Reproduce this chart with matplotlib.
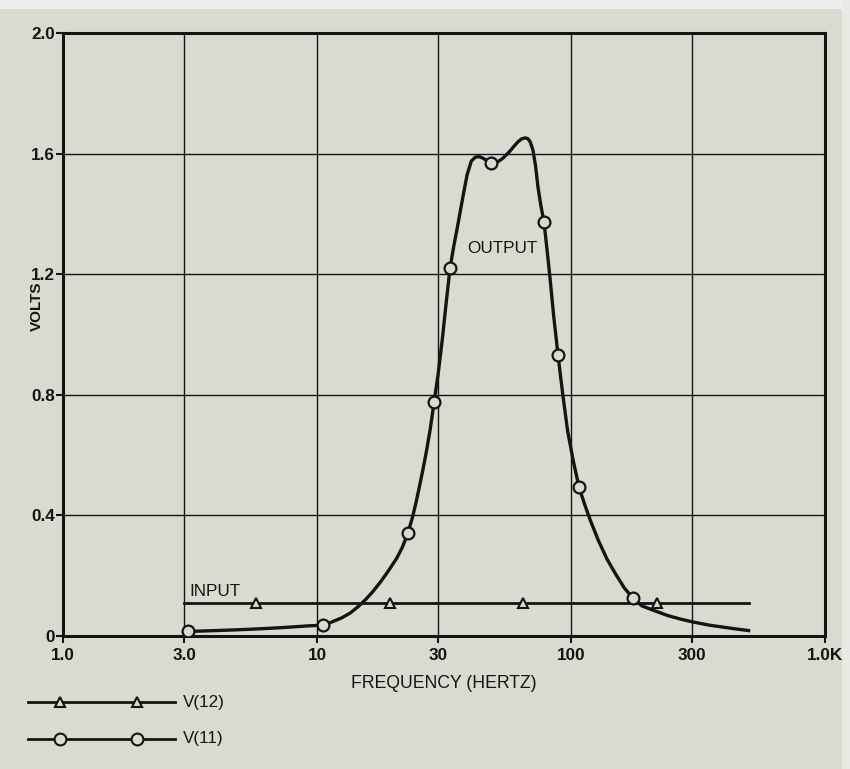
import numpy as np
import matplotlib
matplotlib.use('Agg')
import matplotlib.pyplot as plt
from matplotlib.lines import Line2D
from matplotlib.patches import Rectangle
from matplotlib.ticker import NullLocator

plt.rcParams['font.family'] = ['Liberation Sans', 'DejaVu Sans']

# V(11) - output node
out_freq = [3.0, 3.1, 4.0, 5.0, 6.0, 7.0, 8.0, 9.0, 10.0, 10.6, 11.25, 12.5, 13.5,
            14.5, 15.5, 16.5, 17.7, 19.0, 20.6, 21.7, 22.8, 23.7, 24.5, 25.3, 26.1,
            27.0, 27.9, 28.9, 30.0, 31.2, 32.3, 33.4, 34.5, 35.6, 37.6, 39.0, 40.5,
            42.0, 43.5, 45.0, 47.0, 48.4, 50.0, 52.0, 54.0, 56.0, 58.0, 60.0, 62.0,
            64.0, 65.9, 67.5, 69.0, 70.8, 72.5, 74.1, 76.0, 78.3, 80.5, 82.6, 85.5,
            88.9, 91.0, 93.1, 97.0, 101.9, 107.5, 113.0, 119.0, 128.0, 138.6, 150.0,
            162.0, 175.0, 190.0, 210.0, 240.0, 270.0, 300.0, 350.0, 400.0, 450.0, 500.0]
out_volts = [0.013, 0.015, 0.018, 0.021, 0.024, 0.027, 0.030, 0.033, 0.035, 0.037, 0.044,
             0.060, 0.076, 0.097, 0.120, 0.145, 0.177, 0.213, 0.258, 0.295, 0.342, 0.390,
             0.440, 0.495, 0.550, 0.615, 0.685, 0.775, 0.870, 0.990, 1.110, 1.220, 1.290,
             1.350, 1.460, 1.530, 1.575, 1.588, 1.590, 1.585, 1.575, 1.570, 1.568, 1.575,
             1.585, 1.598, 1.612, 1.627, 1.640, 1.649, 1.652, 1.650, 1.640, 1.612, 1.560,
             1.490, 1.430, 1.373, 1.280, 1.191, 1.060, 0.932, 0.860, 0.793, 0.680, 0.584,
             0.494, 0.438, 0.385, 0.318, 0.255, 0.205, 0.160, 0.126, 0.100, 0.086, 0.068,
             0.056, 0.047, 0.036, 0.029, 0.023, 0.018]
out_mark_freq = [3.1, 10.6, 22.8, 28.9, 33.4, 48.4, 78.3, 88.9, 107.5, 175.0]

# V(12) - input node
in_freq = [3.0, 5.75, 19.4, 64.7, 218.0, 500.0]
in_volts = [0.11, 0.11, 0.11, 0.11, 0.11, 0.11]
in_mark_freq = [5.75, 19.4, 64.7, 218.0]

xticks = [1, 3, 10, 30, 100, 300, 1000]
xticklabels = ['1.0', '3.0', '10', '30', '100', '300', '1.0K']
yticks = [0, 0.4, 0.8, 1.2, 1.6, 2.0]
yticklabels = ['0', '0.4', '0.8', '1.2', '1.6', '2.0']

BG = '#d9dbd1'
INK = '#141414'
W, H = 850, 769

fig = plt.figure(figsize=(W / 100, H / 100), dpi=100, facecolor=BG)
fig.patches.append(Rectangle((0, 1 - 9 / H), 1, 9 / H, transform=fig.transFigure,
                             facecolor='#eeeeea', edgecolor='none', zorder=0))
fig.patches.append(Rectangle((1 - 8 / W, 0), 8 / W, 1, transform=fig.transFigure,
                             facecolor='#e8e9e3', edgecolor='none', zorder=0))

ax = fig.add_axes([63 / W, 1 - 636 / H, 762 / W, 603 / H])
ax.set_facecolor(BG)
ax.set_xscale('log')
ax.set_xlim(1, 1000)
ax.set_ylim(0, 2.0)
ax.set_xticks(xticks)
ax.set_xticklabels(xticklabels)
ax.xaxis.set_minor_locator(NullLocator())
ax.set_yticks(yticks)
ax.set_yticklabels(yticklabels)
ax.grid(True, color=INK, lw=1.0)
ax.set_axisbelow(True)
for sp in ax.spines.values():
    sp.set_linewidth(2.2)
    sp.set_color(INK)
ax.tick_params(axis='both', colors=INK, labelsize=12.3, width=1.5, direction='out')
ax.tick_params(axis='y', length=5, pad=1)
ax.tick_params(axis='x', length=5, pad=3.5)
for lbl in ax.get_xticklabels() + ax.get_yticklabels():
    lbl.set_fontweight('bold')

out_idx = [i for i, f in enumerate(out_freq) if f in out_mark_freq]
in_idx = [i for i, f in enumerate(in_freq) if f in in_mark_freq]

ax.plot(out_freq, out_volts, color=INK, lw=2.4, marker='o', markevery=out_idx,
        ms=8.5, mfc=BG, mec=INK, mew=1.6, zorder=4, solid_joinstyle='round')
ax.plot(in_freq, in_volts, color=INK, lw=2.0, marker='^', markevery=in_idx,
        ms=7.5, mfc=BG, mec=INK, mew=1.5, zorder=3)

ax.text(53.5, 1.284, 'OUTPUT', fontsize=12.3, color=INK, ha='center', va='center')
ax.text(3.95, 0.149, 'INPUT', fontsize=12.3, color=INK, ha='center', va='center')

ax.set_xlabel('FREQUENCY (HERTZ)', fontsize=12.7, color=INK)
ax.xaxis.set_label_coords(0.5, -0.064)
ax.set_ylabel('VOLTS', fontsize=11, fontweight='bold', color=INK)
ax.yaxis.set_label_coords(-0.025, 0.547)

# key below the plot
for ypx, mk, ms, name in [(702, '^', 7.5, 'V(12)'), (739, 'o', 8.5, 'V(11)')]:
    yf = 1 - ypx / H
    fig.add_artist(Line2D([28 / W, 175 / W], [yf, yf], color=INK, lw=2.0))
    fig.add_artist(Line2D([60 / W, 137 / W], [yf, yf], ls='none', marker=mk, ms=ms,
                          mfc=BG, mec=INK, mew=1.5))
    fig.text(183 / W, yf, name, fontsize=12.3, color=INK, va='center', ha='left')

fig.savefig('out.png', dpi=100, facecolor=BG)
